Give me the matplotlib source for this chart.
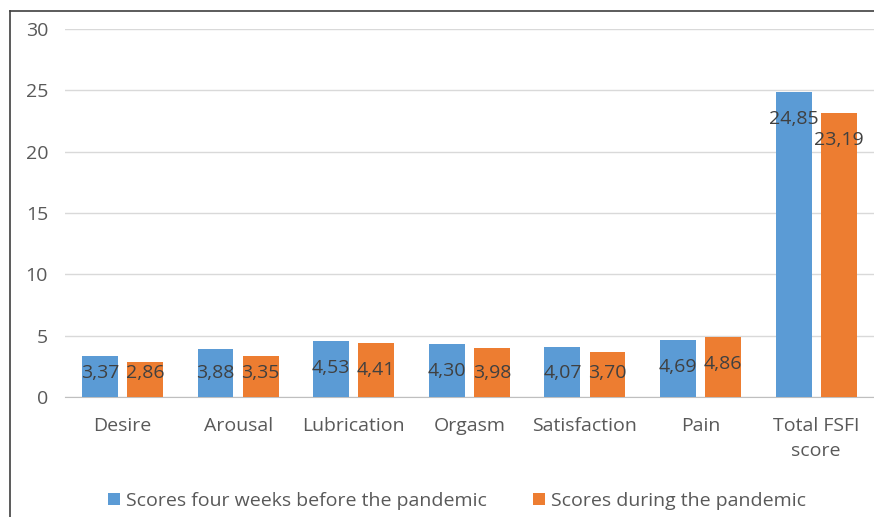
import numpy as np
import matplotlib.pyplot as plt
from matplotlib.lines import Line2D

categories = ["Desire", "Arousal", "Lubrication", "Orgasm", "Satisfaction", "Pain", "Total FSFI\nscore"]
before = [3.37, 3.88, 4.53, 4.30, 4.07, 4.69, 24.85]
during = [2.86, 3.35, 4.41, 3.98, 3.70, 4.86, 23.19]
series_names = ["Scores four weeks before the pandemic", "Scores during the pandemic"]

blue = "#5B9BD5"
orange = "#ED7D31"
txt = "#595959"

plt.rcParams['font.family'] = ['Open Sans', 'DejaVu Sans']

fig = plt.figure(figsize=(8.74, 5.17), dpi=100)
ax = fig.add_axes([0.074, 0.232, 0.926, 0.712])

x = np.arange(len(categories))
w = 0.31
gap = 0.08
b1 = ax.bar(x - w/2 - gap/2, before, w, color=blue, label=series_names[0], zorder=3)
b2 = ax.bar(x + w/2 + gap/2, during, w, color=orange, label=series_names[1], zorder=3)

# value labels sit near the top inside each bar
for bars, vals in ((b1, before), (b2, during)):
    for r, v in zip(bars, vals):
        ypos = max(v - 2.2, 2.0)
        ax.text(r.get_x() + r.get_width()/2, ypos, f"{v:.2f}".replace(".", ","),
                ha="center", va="center", fontsize=14, color="#404040", zorder=4)

ax.set_ylim(0, 30)
ax.set_xlim(-0.5, len(categories) - 0.5)
ax.set_yticks(range(0, 31, 5))
ax.set_xticks(x)
ax.set_xticklabels(categories, fontsize=14, color=txt, linespacing=1.5)
ax.tick_params(axis='both', length=0, labelsize=14, labelcolor=txt)
ax.tick_params(axis='x', pad=14)
ax.tick_params(axis='y', pad=12)
ax.yaxis.grid(True, color="#D9D9D9", linewidth=1, zorder=0)
for s in ("top", "right", "left"):
    ax.spines[s].set_visible(False)
ax.spines["bottom"].set_color("#BFBFBF")

ax.legend(loc="upper center", bbox_to_anchor=(0.485, -0.21), ncol=2, frameon=False,
          fontsize=14, handlelength=0.6, handleheight=0.6, handletextpad=0.3,
          columnspacing=2.4, labelcolor=txt)

# outer frame lines on left and top
fig.add_artist(Line2D([10/874, 10/874], [0, 1 - 11/517], color="#404040", linewidth=1.2))
fig.add_artist(Line2D([10/874, 1], [1 - 11/517, 1 - 11/517], color="#404040", linewidth=1.2))

fig.savefig("out.png", dpi=100)
